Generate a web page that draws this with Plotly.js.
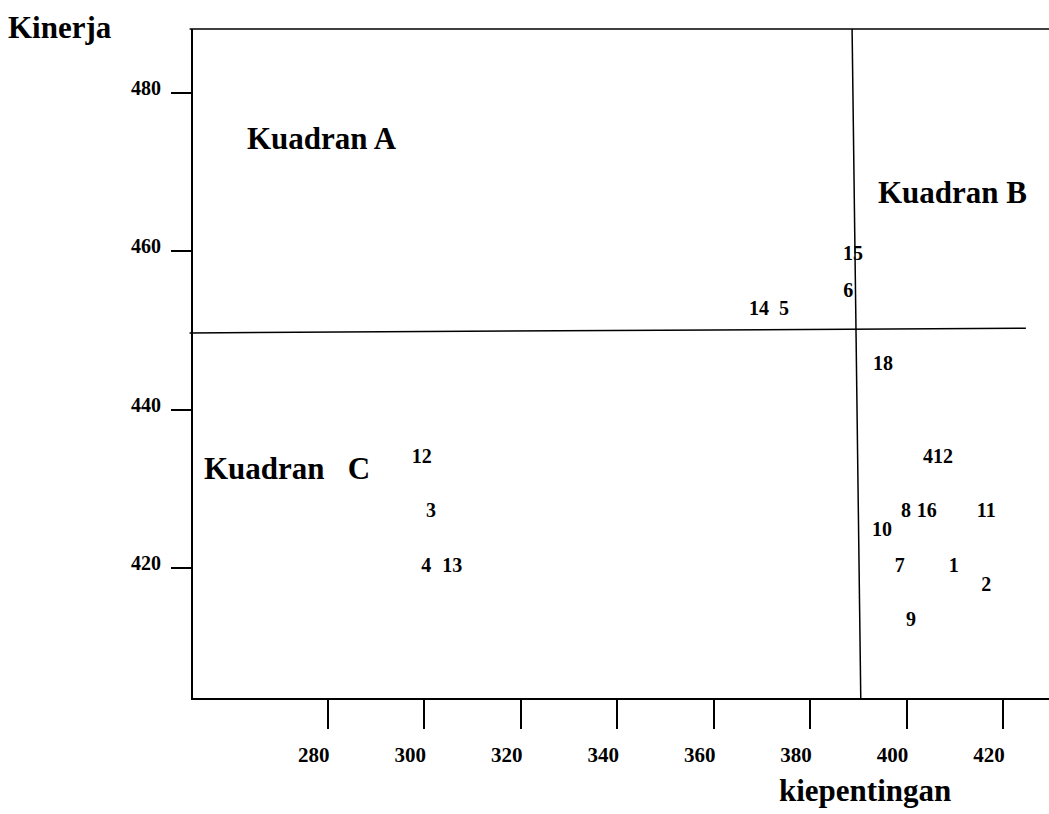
<!DOCTYPE html>
<html>
<head>
<meta charset="utf-8">
<script src="https://cdn.plot.ly/plotly-3.0.1.min.js"></script>
<style>html,body{margin:0;padding:0;background:#fff;}#chart{width:1049px;height:814px;}</style>
</head>
<body>
<div id="chart"></div>
<script>
// Data
const pointLabels = ['15','6','14','5','18','412','8','16','11','10','7','1','2','9','12','3','4','13'];
const kepentingan = [388.9,387.9,369.4,374.6,395.1,406.5,399.9,404.2,416.5,394.9,398.6,409.8,416.5,400.9,299.5,301.4,300.4,305.8];
const kinerja     = [459.5,454.9,452.6,452.6,445.6,433.9,427.0,427.0,427.0,424.7,420.1,420.1,417.7,413.3,433.9,427.0,420.1,420.1];

const xTickVals = [280,300,320,340,360,380,400,420];
const yTickVals = [420,440,460,480];

const quadrantNames = ['Kuadran A','Kuadran B','Kuadran\u00a0\u00a0\u00a0C'];
const quadrantX = [262.9,393.7,253.9];
const quadrantY = [474.3,467.4,432.6];

// Quadrant dividers (means)
const dividerX = [388.7,390.5];
const dividerY = [449.7,450.3];

const FONT = 'Liberation Serif, Times New Roman, serif';

const trace = {
  type:'scatter', mode:'text',
  x:kepentingan, y:kinerja, text:pointLabels,
  textposition:'middle center',
  textfont:{family:FONT, size:20, color:'#000', weight:'bold'},
  hoverinfo:'skip', showlegend:false, cliponaxis:false
};

const annotations = quadrantNames.map((t,i)=>({
  text:t, x:quadrantX[i], y:quadrantY[i], xref:'x', yref:'y',
  xanchor:'left', yanchor:'middle', showarrow:false,
  font:{family:FONT, size:31, color:'#000', weight:'bold'}
}));
annotations.push({
  text:'kiepentingan', x:0.785, y:-0.138, xref:'paper', yref:'paper',
  xanchor:'center', yanchor:'middle', showarrow:false,
  font:{family:FONT, size:31, color:'#000', weight:'bold'}
});

const layout = {
  width:1049, height:814,
  margin:{l:193, r:0, t:29, b:116},
  paper_bgcolor:'#fff', plot_bgcolor:'#fff',
  title:{text:'Kinerja', x:8/1049, xanchor:'left', xref:'container',
         y:1-27/814, yanchor:'middle', yref:'container',
         font:{family:FONT, size:31, color:'#000', weight:'bold'}},
  xaxis:{range:[252.07,429.52], showgrid:false, zeroline:false,
         showline:true, linecolor:'#000', linewidth:2,
         tickmode:'array', tickvals:xTickVals, ticks:'outside', ticklen:29, tickwidth:2, tickcolor:'#000',
         ticklabelstandoff:8, ticklabelshift:-14,
         tickfont:{family:FONT, size:21, color:'#000', weight:'bold'}},
  yaxis:{range:[403.54,488.12], showgrid:false, zeroline:false,
         showline:true, linecolor:'#000', linewidth:2,
         tickmode:'array', tickvals:yTickVals, ticks:'outside', ticklen:20, tickwidth:2, tickcolor:'#000',
         ticklabelstandoff:6, ticklabelshift:-5,
         tickfont:{family:FONT, size:20, color:'#000', weight:'bold'}},
  shapes:[
    {type:'line', xref:'paper', yref:'paper', x0:-0.004, x1:1, y0:1, y1:1, line:{color:'#000', width:1.5}},
    {type:'line', xref:'x', yref:'paper', x0:dividerX[0], x1:dividerX[1], y0:1, y1:0, line:{color:'#000', width:1.5}},
    {type:'line', xref:'paper', yref:'y', x0:-0.004, x1:0.973, y0:dividerY[0], y1:dividerY[1], line:{color:'#000', width:1.5}}
  ],
  annotations:annotations,
  showlegend:false
};

Plotly.newPlot('chart',[trace],layout,{displayModeBar:false, staticPlot:true});
</script>
</body>
</html>
